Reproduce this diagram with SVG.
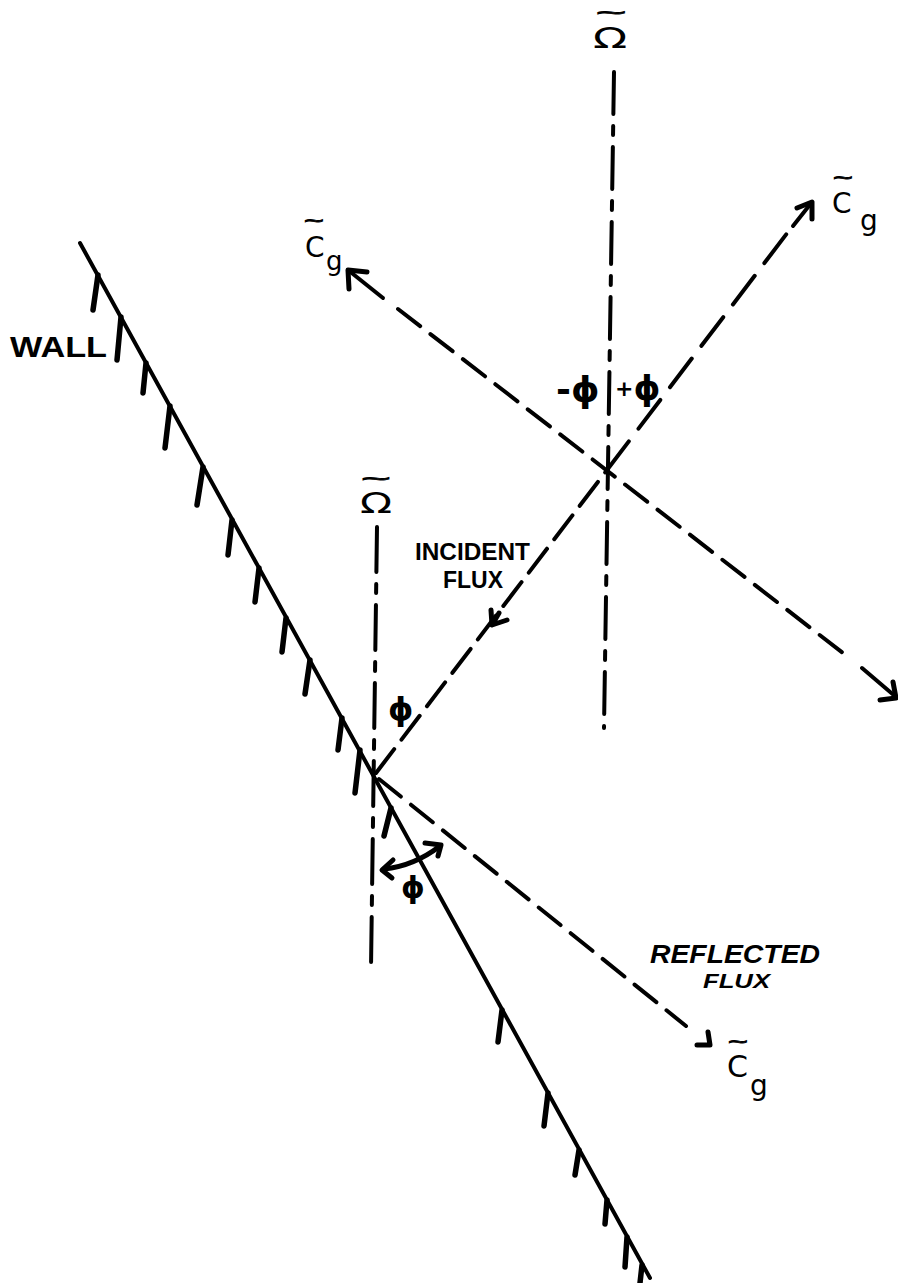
<svg xmlns="http://www.w3.org/2000/svg" width="898" height="1283" viewBox="0 0 898 1283">
<style>
.ln{stroke:#000;stroke-width:4;fill:none;stroke-linecap:round;stroke-linejoin:round}
.dA{stroke-dasharray:30 12}
.dB{stroke-dasharray:36 16}
.dC{stroke-dasharray:28 13}
.up{stroke-dasharray:42 12 9 12}
.lo{stroke-dasharray:45 12 9 12}
.ah{stroke:#000;stroke-width:5;fill:none;stroke-linecap:round;stroke-linejoin:round}
.h{stroke:#000;stroke-width:5.5;stroke-linecap:round;fill:none}
text{font-family:"Liberation Sans",Arial,sans-serif;fill:#000}
.sym{font-family:"DejaVu Sans",sans-serif}
.cap{font-family:"Liberation Sans",Arial,sans-serif;font-weight:bold}
.tl{font-family:"Liberation Sans",Arial,sans-serif;font-weight:bold;font-size:14px;text-anchor:middle;stroke:#000;stroke-width:0.8}
</style>
<rect width="898" height="1283" fill="#fff"/>

<g id="wall">
<line class="ln" x1="80" y1="243" x2="650" y2="1278"/>
<path class="h" d="M98,275 L93,310 M121,317 L117,360 M146,363 L143,393 M170,406 L165,448 M203,467 L197,505 M232,520 L228,555 M259,568 L255,602 M286,618 L282,652 M310,660 L305,694 M342,718 L338,750 M360,750 L355,793 M391,808 L384,836 M502,1010 L498,1042 M548,1093 L544,1126 M579,1150 L575,1175 M607,1200 L605,1224 M627,1237 L625,1267 M642,1265 L640,1283"/>
<text class="cap" x="10" y="357" font-size="30" textLength="97" lengthAdjust="spacingAndGlyphs">WALL</text>
</g>

<g id="axis-upper">
<line class="ln up" x1="614" y1="72" x2="604" y2="728"/>
<text class="sym" transform="translate(593,48) scale(1.6,1)" font-size="28">Ω</text>
<text class="tl" transform="translate(611,18) scale(3.5,1)">~</text>
</g>

<g id="axis-lower">
<line class="ln lo" x1="377" y1="527" x2="371" y2="968"/>
<text class="sym" transform="translate(360,513) scale(1.5,1)" font-size="28">Ω</text>
<text class="tl" transform="translate(376,484) scale(3.4,1)">~</text>
</g>

<g id="connectors">
<line class="ln dA" x1="376" y1="773" x2="607" y2="470"/>
<line class="ln dB" x1="607" y1="470" x2="788" y2="232"/>
<path class="ln" d="M793,226 L812,202"/>
<path class="ah" d="M797,208 L812,202 L812,219"/>
<path class="ln" d="M383,298 L348,270"/>
<path class="ah" d="M367,272 L348,270 L349,289"/>
<line class="ln dC" x1="398" y1="309" x2="852" y2="660"/>
<path class="ln" d="M862,668 L896,697"/>
<path class="ah" d="M880,700 L896,698 L893,682"/>
<path class="ah" d="M499,613 L492,625 M491,610 L492,625 L507,620"/>
<line class="ln dC" x1="379" y1="779" x2="686" y2="1026"/>
<path class="ah" d="M697,1045 L710,1045 L708,1032"/>
<path class="ah" d="M384,869 Q414,866 440,846"/>
<path class="ah" d="M393,860 L382,870 L392,878"/>
<path class="ah" d="M425,843 L441,845 L438,856"/>
</g>

<g id="labels">
<text class="tl" transform="translate(314,226) scale(2.3,1)">~</text>
<text class="sym" x="305" y="257" font-size="28">C<tspan x="326" y="270" font-size="26">g</tspan></text>
<text class="tl" transform="translate(843,183) scale(2.3,1)">~</text>
<text class="sym" x="832" y="213" font-size="28">C<tspan x="860" y="230" font-size="28">g</tspan></text>
<text class="tl" transform="translate(738,1047) scale(2.3,1)">~</text>
<text class="sym" x="727" y="1077" font-size="30">C<tspan x="750" y="1095" font-size="28">g</tspan></text>
<text class="sym" x="556" y="402" font-size="36" font-weight="bold">-ϕ</text>
<text class="sym" x="615" y="400" font-size="34" font-weight="bold"><tspan font-size="22" dy="-4">+</tspan><tspan dy="4">ϕ</tspan></text>
<text class="sym" x="388" y="720" font-size="32" font-weight="bold">ϕ</text>
<text class="sym" x="401" y="898" font-size="30" font-weight="bold">ϕ</text>
<text class="cap" x="415" y="560" font-size="24" textLength="115" lengthAdjust="spacingAndGlyphs">INCIDENT</text>
<text class="cap" x="443" y="588" font-size="24" textLength="60" lengthAdjust="spacingAndGlyphs">FLUX</text>
<text class="cap" x="650" y="963" font-size="26" font-style="italic" textLength="170" lengthAdjust="spacingAndGlyphs">REFLECTED</text>
<text class="cap" x="703" y="988" font-size="20" font-style="italic" textLength="67" lengthAdjust="spacingAndGlyphs">FLUX</text>
</g>
</svg>
